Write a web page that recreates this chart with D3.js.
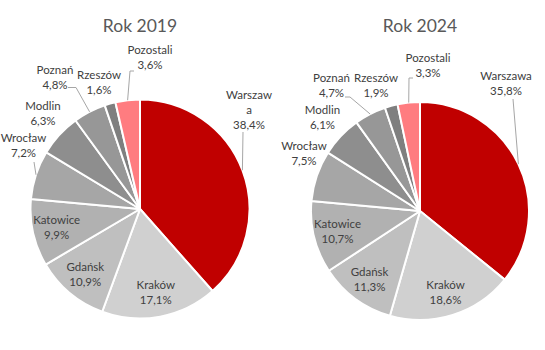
<!DOCTYPE html>
<html lang="pl">
<head>
<meta charset="utf-8">
<script src="https://cdn.jsdelivr.net/npm/d3@7"></script>
<style>
  html, body { margin: 0; padding: 0; background: #fff; }
  svg { display: block; font-family: Lato, "Open Sans", sans-serif; }
</style>
</head>
<body>
<svg id="chart" width="545" height="350"></svg>
<script>
// Airport passenger shares, clockwise from 12 o'clock
const cities = ["Warszawa", "Kraków", "Gdańsk", "Katowice", "Wrocław", "Modlin", "Poznań", "Rzeszów", "Pozostali"];
const share2019 = [38.4, 17.1, 10.9, 9.9, 7.2, 6.3, 4.8, 1.6, 3.6];
const share2024 = [35.8, 18.6, 11.3, 10.7, 7.5, 6.1, 4.7, 1.9, 3.3];
const titles = ["Rok 2019", "Rok 2024"];

const sliceColors = ["#C00000", "#D0D0D0", "#BFBFBF", "#B1B1B1", "#A6A6A6", "#8E8E8E", "#979797", "#7F7F7F", "#FF7C80"];

// Layout for each pie: centre, radius, and label placement for the labels
// that sit outside the pie (first-line baseline, text centre x, leader points).
const layouts = [
  {
    cx: 140, cy: 209, r: 109.5,
    outside: {
      "Warszawa": { x: 249, y: 98.5, lines: ["Warszaw", "a"], leader: [[243, 132]] },
      "Wrocław":  { x: 23.5, y: 141.5, leader: [[34, 162]] },
      "Modlin":   { x: 43, y: 110 },
      "Poznań":   { x: 55, y: 73.5, leader: [[68, 87.5], [76, 87.5]] },
      "Rzeszów":  { x: 99, y: 78.5 },
      "Pozostali":{ x: 150, y: 54, leader: [[134, 71], [130, 71]] }
    }
  },
  {
    cx: 420, cy: 211, r: 109,
    outside: {
      "Warszawa": { x: 506, y: 80, leader: [[513, 99]] },
      "Wrocław":  { x: 304, y: 150 },
      "Modlin":   { x: 322.5, y: 114 },
      "Poznań":   { x: 331.5, y: 81.5, leader: [[345, 97], [350, 97]] },
      "Rzeszów":  { x: 376, y: 81.5 },
      "Pozostali":{ x: 428, y: 61.5, leader: [[413, 78], [409, 78]] }
    }
  }
];

const svg = d3.select("#chart");
const color = d3.scaleOrdinal().domain(cities).range(sliceColors);
const pie = d3.pie().sort(null).value(d => d.value);
const fmt = v => d3.format(".1f")(v).replace(".", ",") + "%";
const lineGap = 15;

[share2019, share2024].forEach((values, i) => {
  const L = layouts[i];
  const rows = cities.map((c, k) => ({ city: c, value: values[k] }));
  const arcs = pie(rows);
  const arc = d3.arc().innerRadius(0).outerRadius(L.r);
  const labelArc = d3.arc().innerRadius(L.r * 0.78).outerRadius(L.r * 0.78);
  const edgeArc = d3.arc().innerRadius(L.r).outerRadius(L.r);

  const g = svg.append("g");

  g.append("text")
    .attr("x", L.cx).attr("y", 32)
    .attr("text-anchor", "middle")
    .attr("font-size", 17.5)
    .attr("fill", "#595959")
    .text(titles[i]);

  const pg = g.append("g").attr("transform", `translate(${L.cx},${L.cy})`);
  pg.selectAll("path")
    .data(arcs)
    .join("path")
    .attr("d", arc)
    .attr("fill", d => color(d.data.city))
    .attr("stroke", "#fff")
    .attr("stroke-width", 2)
    .attr("stroke-linejoin", "round");

  // leader lines from outside labels to the slice edge
  arcs.forEach(d => {
    const o = L.outside[d.data.city];
    if (!o || !o.leader) return;
    const [ex, ey] = edgeArc.centroid(d);
    const pts = o.leader.concat([[L.cx + ex, L.cy + ey]]);
    g.append("path")
      .attr("d", d3.line()(pts))
      .attr("fill", "none")
      .attr("stroke", "#A6A6A6")
      .attr("stroke-width", 1);
  });

  // data labels
  arcs.forEach(d => {
    const o = L.outside[d.data.city];
    let x, y0, lines;
    if (o) {
      x = o.x; y0 = o.y;
      lines = (o.lines || [d.data.city]).concat([fmt(d.data.value)]);
    } else {
      const [lx, ly] = labelArc.centroid(d);
      x = L.cx + lx; y0 = L.cy + ly - 3.5;
      lines = [d.data.city, fmt(d.data.value)];
    }
    const t = g.append("text")
      .attr("text-anchor", "middle")
      .attr("font-size", 11.5)
      .attr("fill", "#404040");
    lines.forEach((s, k) => {
      t.append("tspan").attr("x", x).attr("y", y0 + k * lineGap).text(s);
    });
  });
});
</script>
</body>
</html>
